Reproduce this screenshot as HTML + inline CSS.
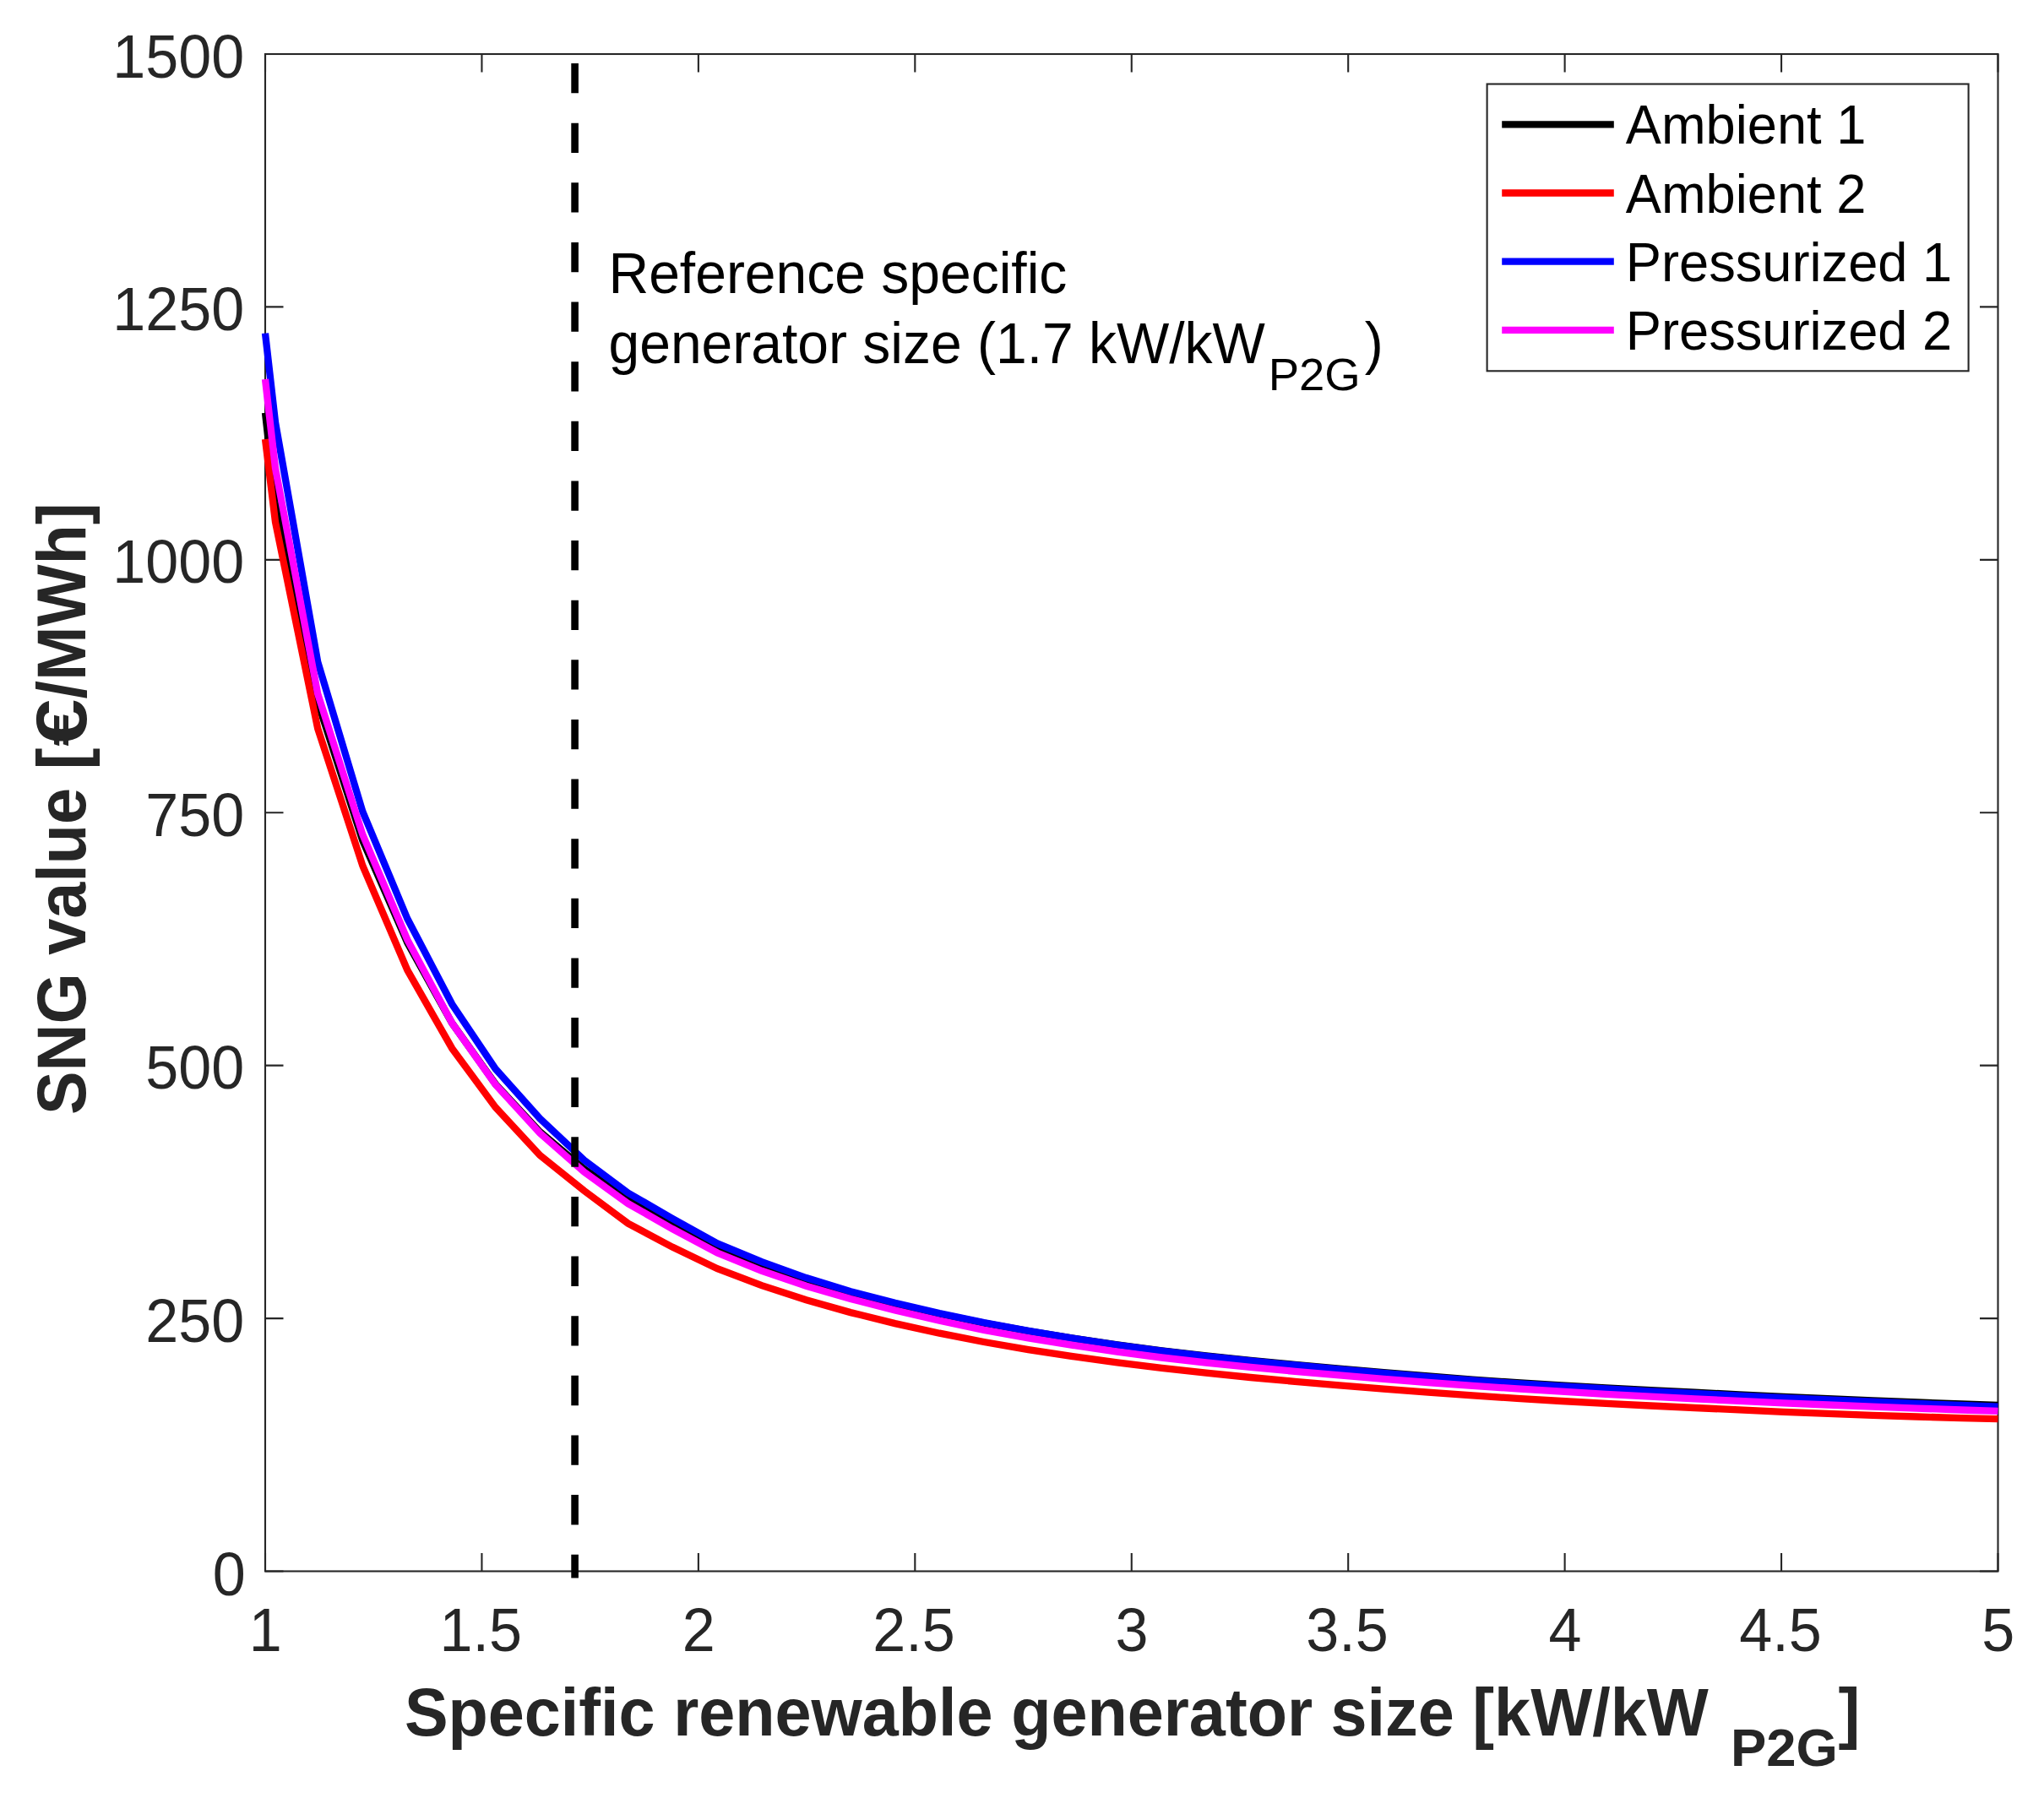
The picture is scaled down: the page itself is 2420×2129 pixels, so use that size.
<!DOCTYPE html>
<html lang="en">
<head>
<meta charset="utf-8">
<title>SNG value vs specific renewable generator size</title>
<style>
html,body{margin:0;padding:0;background:#fff;}
body{width:2420px;height:2129px;overflow:hidden;}
svg{display:block;}
</style>
</head>
<body>
<svg width="2420" height="2129" viewBox="0 0 2420 2129">
<rect x="0" y="0" width="2420" height="2129" fill="#ffffff"/>
<rect x="314.0" y="64.0" width="2051.5" height="1796.5" fill="none" stroke="#262626" stroke-width="2.1"/>
<path d="M314.00,1860.5 V1839.0 M314.00,64.0 V85.5 M570.44,1860.5 V1839.0 M570.44,64.0 V85.5 M826.88,1860.5 V1839.0 M826.88,64.0 V85.5 M1083.31,1860.5 V1839.0 M1083.31,64.0 V85.5 M1339.75,1860.5 V1839.0 M1339.75,64.0 V85.5 M1596.19,1860.5 V1839.0 M1596.19,64.0 V85.5 M1852.62,1860.5 V1839.0 M1852.62,64.0 V85.5 M2109.06,1860.5 V1839.0 M2109.06,64.0 V85.5 M2365.50,1860.5 V1839.0 M2365.50,64.0 V85.5 M314.0,1860.50 H335.5 M2365.5,1860.50 H2344.0 M314.0,1561.08 H335.5 M2365.5,1561.08 H2344.0 M314.0,1261.67 H335.5 M2365.5,1261.67 H2344.0 M314.0,962.25 H335.5 M2365.5,962.25 H2344.0 M314.0,662.83 H335.5 M2365.5,662.83 H2344.0 M314.0,363.42 H335.5 M2365.5,363.42 H2344.0 M314.0,64.00 H335.5 M2365.5,64.00 H2344.0" fill="none" stroke="#262626" stroke-width="2.1"/>
<clipPath id="cp"><rect x="304.0" y="64.0" width="2062.5" height="1816.5"/></clipPath>
<g clip-path="url(#cp)" fill="none" stroke-width="8.33" stroke-linejoin="miter" stroke-linecap="butt">
<path d="M314.0,488.9 L326.0,594.5 L376.2,831.1 L429.4,995.4 L482.4,1116.5 L535.2,1211.5 L586.6,1283.5 L639.3,1340.3 L691.7,1384.3 L743.6,1420.2 L796.0,1449.1 L849.3,1477.0 L901.9,1497.9 L954.5,1515.4 L1007.1,1530.5 L1059.7,1543.7 L1112.3,1555.8 L1164.9,1566.6 L1217.5,1576.1 L1270.1,1584.7 L1322.7,1592.4 L1375.3,1599.3 L1427.9,1605.4 L1480.5,1610.9 L1533.1,1615.9 L1585.7,1620.6 L1638.3,1625.1 L1690.9,1629.5 L1743.5,1633.6 L1796.1,1637.2 L1848.7,1640.5 L1901.3,1643.4 L1953.9,1646.1 L2006.5,1648.7 L2059.1,1651.3 L2111.7,1653.8 L2164.3,1656.2 L2216.9,1658.4 L2269.5,1660.5 L2322.1,1662.5 L2365.5,1664.0" stroke="#000000"/>
<path d="M314.0,519.9 L326.0,618.2 L376.2,862.6 L429.4,1025.2 L482.4,1148.9 L535.2,1241.4 L586.6,1311.1 L639.3,1368.0 L691.7,1410.0 L743.6,1448.6 L796.0,1476.6 L849.3,1502.2 L901.9,1522.1 L954.5,1539.3 L1007.1,1554.1 L1059.7,1567.1 L1112.3,1578.7 L1164.9,1589.0 L1217.5,1598.1 L1270.1,1606.1 L1322.7,1613.4 L1375.3,1619.9 L1427.9,1625.7 L1480.5,1631.0 L1533.1,1635.8 L1585.7,1640.3 L1638.3,1644.6 L1690.9,1648.6 L1743.5,1652.4 L1796.1,1655.9 L1848.7,1659.0 L1901.3,1661.8 L1953.9,1664.5 L2006.5,1667.0 L2059.1,1669.4 L2111.7,1671.8 L2164.3,1673.9 L2216.9,1675.8 L2269.5,1677.5 L2322.1,1679.1 L2365.5,1680.2" stroke="#ff0000"/>
<path d="M314.0,394.6 L326.0,500.0 L376.2,783.7 L429.4,961.1 L482.4,1088.0 L535.2,1189.0 L586.6,1265.6 L639.3,1324.5 L691.7,1373.9 L743.6,1412.5 L796.0,1442.8 L849.3,1472.4 L901.9,1494.2 L954.5,1513.1 L1007.1,1529.2 L1059.7,1542.8 L1112.3,1555.1 L1164.9,1566.1 L1217.5,1575.8 L1270.1,1584.6 L1322.7,1592.5 L1375.3,1599.6 L1427.9,1605.8 L1480.5,1611.4 L1533.1,1616.5 L1585.7,1621.3 L1638.3,1626.0 L1690.9,1630.4 L1743.5,1634.5 L1796.1,1638.2 L1848.7,1641.5 L1901.3,1644.5 L1953.9,1647.3 L2006.5,1650.0 L2059.1,1652.6 L2111.7,1655.1 L2164.3,1657.5 L2216.9,1659.7 L2269.5,1661.9 L2322.1,1664.0 L2365.5,1665.6" stroke="#0000ff"/>
<path d="M314.0,449.0 L326.0,554.5 L376.2,821.6 L429.4,988.4 L482.4,1113.0 L535.2,1211.5 L586.6,1284.2 L639.3,1341.8 L691.7,1387.8 L743.6,1425.2 L796.0,1455.0 L849.3,1483.5 L901.9,1504.8 L954.5,1522.7 L1007.1,1538.0 L1059.7,1551.5 L1112.3,1563.8 L1164.9,1574.8 L1217.5,1584.3 L1270.1,1592.9 L1322.7,1600.6 L1375.3,1607.5 L1427.9,1613.5 L1480.5,1618.9 L1533.1,1623.8 L1585.7,1628.4 L1638.3,1632.8 L1690.9,1637.0 L1743.5,1640.9 L1796.1,1644.4 L1848.7,1647.7 L1901.3,1650.8 L1953.9,1653.6 L2006.5,1656.3 L2059.1,1658.9 L2111.7,1661.3 L2164.3,1663.5 L2216.9,1665.7 L2269.5,1667.6 L2322.1,1669.5 L2365.5,1670.9" stroke="#ff00ff"/>
</g>
<line x1="680.6" y1="75" x2="680.6" y2="1868.6" stroke="#000" stroke-width="8.6" stroke-dasharray="35.3 35.33"/>
<text transform="translate(314.3,1955.3) scale(1,1.041)" font-family="'Liberation Sans', Arial, sans-serif" font-size="70.1" text-anchor="middle" fill="#262626">1</text>
<text transform="translate(569.2,1955.3) scale(1,1.041)" font-family="'Liberation Sans', Arial, sans-serif" font-size="70.1" text-anchor="middle" fill="#262626">1.5</text>
<text transform="translate(827.2,1955.3) scale(1,1.041)" font-family="'Liberation Sans', Arial, sans-serif" font-size="70.1" text-anchor="middle" fill="#262626">2</text>
<text transform="translate(1082.1,1955.3) scale(1,1.041)" font-family="'Liberation Sans', Arial, sans-serif" font-size="70.1" text-anchor="middle" fill="#262626">2.5</text>
<text transform="translate(1340.0,1955.3) scale(1,1.041)" font-family="'Liberation Sans', Arial, sans-serif" font-size="70.1" text-anchor="middle" fill="#262626">3</text>
<text transform="translate(1595.0,1955.3) scale(1,1.041)" font-family="'Liberation Sans', Arial, sans-serif" font-size="70.1" text-anchor="middle" fill="#262626">3.5</text>
<text transform="translate(1852.9,1955.3) scale(1,1.041)" font-family="'Liberation Sans', Arial, sans-serif" font-size="70.1" text-anchor="middle" fill="#262626">4</text>
<text transform="translate(2107.9,1955.3) scale(1,1.041)" font-family="'Liberation Sans', Arial, sans-serif" font-size="70.1" text-anchor="middle" fill="#262626">4.5</text>
<text transform="translate(2365.8,1955.3) scale(1,1.041)" font-family="'Liberation Sans', Arial, sans-serif" font-size="70.1" text-anchor="middle" fill="#262626">5</text>
<text transform="translate(290.8,1888.6) scale(1,1.041)" font-family="'Liberation Sans', Arial, sans-serif" font-size="70.1" text-anchor="end" fill="#262626">0</text>
<text transform="translate(289.2,1588.6) scale(1,1.041)" font-family="'Liberation Sans', Arial, sans-serif" font-size="70.1" text-anchor="end" fill="#262626">250</text>
<text transform="translate(289.2,1289.2) scale(1,1.041)" font-family="'Liberation Sans', Arial, sans-serif" font-size="70.1" text-anchor="end" fill="#262626">500</text>
<text transform="translate(289.2,989.8) scale(1,1.041)" font-family="'Liberation Sans', Arial, sans-serif" font-size="70.1" text-anchor="end" fill="#262626">750</text>
<text transform="translate(289.2,690.3) scale(1,1.041)" font-family="'Liberation Sans', Arial, sans-serif" font-size="70.1" text-anchor="end" fill="#262626">1000</text>
<text transform="translate(289.2,390.9) scale(1,1.041)" font-family="'Liberation Sans', Arial, sans-serif" font-size="70.1" text-anchor="end" fill="#262626">1250</text>
<text transform="translate(289.2,91.5) scale(1,1.041)" font-family="'Liberation Sans', Arial, sans-serif" font-size="70.1" text-anchor="end" fill="#262626">1500</text>
<text transform="translate(478.9,2054.9) scale(1,1.039)" font-family="'Liberation Sans', Arial, sans-serif" font-size="77.4" font-weight="bold" fill="#262626">Specific renewable generator size [kW/kW</text>
<text transform="translate(2048.9,2090.8)" font-family="'Liberation Sans', Arial, sans-serif" font-size="63.4" font-weight="bold" fill="#262626">P2G</text>
<text transform="translate(2176.5,2054.9) scale(1,1.039)" font-family="'Liberation Sans', Arial, sans-serif" font-size="77.4" font-weight="bold" fill="#262626">]</text>
<g transform="translate(101.3,1320) rotate(-90)" font-family="'Liberation Sans', Arial, sans-serif" font-size="77.4" font-weight="bold" fill="#262626"><text transform="scale(1,1.045)">SNG value [</text><text transform="translate(436.3,0.5) scale(1.3,1.09)">€</text><text transform="translate(492.5,0) scale(1,1.045)">/MWh]</text></g>
<text transform="translate(720.5,347.0) scale(1,1.044)" font-family="'Liberation Sans', Arial, sans-serif" font-size="66" fill="#000">Reference specific</text>
<text transform="translate(720.5,430.1) scale(1,1.044)" font-family="'Liberation Sans', Arial, sans-serif" font-size="66" fill="#000">generator size (1.7 kW/kW</text>
<text transform="translate(1501.7,461.8)" font-family="'Liberation Sans', Arial, sans-serif" font-size="54.5" fill="#000">P2G</text>
<text transform="translate(1615.7,430.1) scale(1,1.044)" font-family="'Liberation Sans', Arial, sans-serif" font-size="66" fill="#000">)</text>
<rect x="1760.6" y="99.5" width="570.0" height="339.8" fill="#fff" stroke="#262626" stroke-width="2.1"/>
<line x1="1778.2" y1="147.3" x2="1910.8" y2="147.3" stroke="#000" stroke-width="8.33"/>
<text transform="translate(1924.8,170.3) scale(1,1.04)" font-family="'Liberation Sans', Arial, sans-serif" font-size="63.2" fill="#000">Ambient 1</text>
<line x1="1778.2" y1="228.5" x2="1910.8" y2="228.5" stroke="#f00" stroke-width="8.33"/>
<text transform="translate(1924.8,251.5) scale(1,1.04)" font-family="'Liberation Sans', Arial, sans-serif" font-size="63.2" fill="#000">Ambient 2</text>
<line x1="1778.2" y1="309.7" x2="1910.8" y2="309.7" stroke="#00f" stroke-width="8.33"/>
<text transform="translate(1924.8,332.7) scale(1,1.04)" font-family="'Liberation Sans', Arial, sans-serif" font-size="63.2" fill="#000">Pressurized 1</text>
<line x1="1778.2" y1="390.9" x2="1910.8" y2="390.9" stroke="#f0f" stroke-width="8.33"/>
<text transform="translate(1924.8,413.9) scale(1,1.04)" font-family="'Liberation Sans', Arial, sans-serif" font-size="63.2" fill="#000">Pressurized 2</text>
</svg>
</body>
</html>
